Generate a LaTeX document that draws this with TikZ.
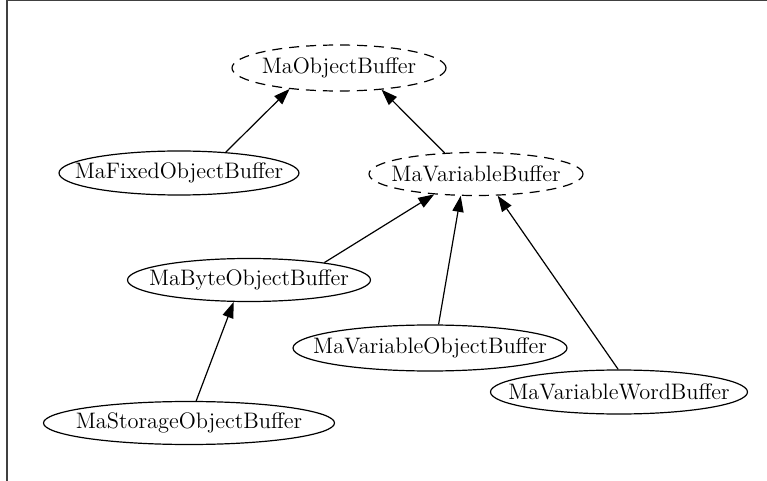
\documentclass[tikz,border=0pt]{standalone}
\usetikzlibrary{arrows.meta,shapes.geometric}
\begin{document}
\begin{tikzpicture}[x=0.5pt,y=-0.5pt,
  cls/.style={ellipse, draw, line width=0.6pt, inner sep=0pt},
  abstract/.style={cls, dash pattern=on 5pt off 3.5pt},
  clsname/.style={font=\fontsize{11.2}{13}\selectfont, inner sep=0pt},
  edge/.style={line width=0.6pt, -{Triangle[length=8pt,width=5.6pt]}}]
\useasboundingbox (0,0) rectangle (767,481);
% frame
\draw[black!75, line width=0.7pt] (7,481) -- (7,0.5) -- (767,0.5);
% class nodes
\node[abstract, minimum width=107pt, minimum height=23pt,
  label={[clsname]center:MaObjectBuffer}] (obj) at (339,68) {};
\node[cls, minimum width=120pt, minimum height=22pt,
  label={[clsname]center:MaFixedObjectBuffer}] (fixed) at (179,173) {};
\node[abstract, minimum width=107pt, minimum height=21.5pt,
  label={[clsname]center:MaVariableBuffer}] (var) at (476,174) {};
\node[cls, minimum width=121.5pt, minimum height=21.5pt,
  label={[clsname]center:MaByteObjectBuffer}] (byte) at (249,280) {};
\node[cls, minimum width=137pt, minimum height=23pt,
  label={[clsname]center:MaVariableObjectBuffer}] (vobj) at (430,348) {};
\node[cls, minimum width=128.5pt, minimum height=22pt,
  label={[clsname]center:MaVariableWordBuffer}] (word) at (619,392) {};
\node[cls, minimum width=145.5pt, minimum height=21.5pt,
  label={[clsname]center:MaStorageObjectBuffer}] (stor) at (189,423) {};
% inheritance edges
\draw[edge] (fixed.24) -- (obj.203.5);
\draw[edge] (var.146) -- (obj.333.4);
\draw[edge] (byte.13.5) -- (var.206.1);
\draw[edge] (vobj.70.8) -- (var.235.7);
\draw[edge] (word.92.6) -- (var.315);
\draw[edge] (stor.72.3) -- (byte.235.7);
\end{tikzpicture}
\end{document}
